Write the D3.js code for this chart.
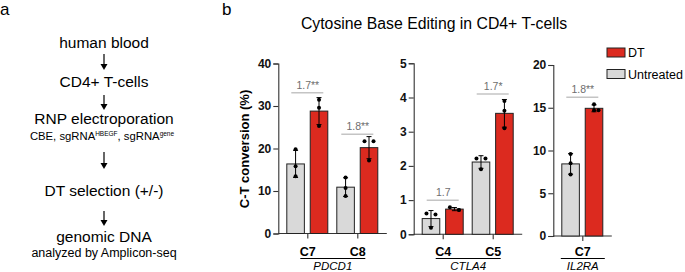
<!DOCTYPE html>
<html>
<head>
<meta charset="utf-8">
<script src="https://cdn.jsdelivr.net/npm/d3@7"></script>
<style>
  body { margin: 0; background: #fff; }
  svg { display: block; font-family: "Liberation Sans", Arial, sans-serif; }
</style>
</head>
<body>
<svg width="685" height="272"></svg>
<script>
// Data
var genes = ['PDCD1', 'CTLA4', 'IL2RA'];
var sites = [['C7', 'C8'], ['C4', 'C5'], ['C7']];
var yMaxes = [40, 5, 20];
var yTicks = [[0, 10, 20, 30, 40], [0, 1, 2, 3, 4, 5], [0, 5, 10, 15, 20]];
// replicates
var untreated = [
    [[19.8, 15.8, 13.5], [13.2, 10.7, 8.8]],
    [[0.61, 0.58, 0.19], [2.22, 2.22, 1.9]],
    [[9.6, 8.5, 7.2]]
];
var dtTreated = [
    [[31.5, 29.6, 25.3], [21.7, 21.7, 17.2]],
    [[0.79, 0.71, 0.71], [3.9, 3.61, 3.1]],
    [[15.4, 14.7, 14.7]]
];
var foldLabels = [['1.7**', '1.8**'], ['1.7', '1.7*'], ['1.8**']];
var groups = ['Untreated', 'DT'];
var flowSteps = ['human blood', 'CD4+ T-cells', 'RNP electroporation', 'DT selection (+/-)', 'genomic DNA'];

var colors = { Untreated: '#d9d9d9', DT: '#dc2a1f' };
var axisColor = '#333';

var svg = d3.select('svg');

// Panel labels
svg.append('text').attr('x', 0).attr('y', 15).attr('font-size', 17).text('a');
svg.append('text').attr('x', 222).attr('y', 15).attr('font-size', 17).text('b');

// ---- Panel a: flow ----
var cx = 104;
var stepY = [48.3, 86.7, 124, 195.7, 241.7];
flowSteps.forEach(function(s, i) {
    svg.append('text')
        .attr('x', cx).attr('y', stepY[i])
        .attr('text-anchor', 'middle')
        .attr('font-size', 15.5)
        .text(s);
});
var sub1 = svg.append('text')
    .attr('x', 102).attr('y', 140)
    .attr('text-anchor', 'middle')
    .attr('font-size', 11.3);
sub1.append('tspan').text('CBE, sgRNA');
sub1.append('tspan').attr('font-size', 6.5).attr('dy', -4).text('HBEGF');
sub1.append('tspan').attr('dy', 4).text(', sgRNA');
sub1.append('tspan').attr('font-size', 6.5).attr('dy', -4).text('gene');
svg.append('text')
    .attr('x', cx).attr('y', 257)
    .attr('text-anchor', 'middle')
    .attr('font-size', 12.5)
    .text('analyzed by Amplicon-seq');

var arrows = [[54, 70], [95, 110], [152, 169], [211, 226]];
arrows.forEach(function(a) {
    svg.append('line')
        .attr('x1', cx).attr('x2', cx)
        .attr('y1', a[0]).attr('y2', a[1] - 4)
        .attr('stroke', '#000').attr('stroke-width', 1.2);
    svg.append('path')
        .attr('d', 'M' + (cx - 3.5) + ',' + (a[1] - 6) + 'L' + (cx + 3.5) + ',' + (a[1] - 6) + 'L' + cx + ',' + a[1] + 'Z')
        .attr('fill', '#000');
});

// ---- Panel b: title + legend ----
svg.append('text')
    .attr('x', 434).attr('y', 29)
    .attr('text-anchor', 'middle')
    .attr('font-size', 15.8)
    .text('Cytosine Base Editing in CD4+ T-cells');

var legendY = { DT: 48, Untreated: 69.5 };
['DT', 'Untreated'].forEach(function(g) {
    svg.append('rect')
        .attr('x', 607).attr('y', legendY[g])
        .attr('width', 18).attr('height', 9)
        .attr('fill', colors[g]).attr('stroke', '#222').attr('stroke-width', 1);
    svg.append('text')
        .attr('x', 628).attr('y', legendY[g] + 4.5)
        .attr('dy', '0.36em')
        .attr('font-size', 12.5)
        .text(g);
});

// ---- bar panels ----
var panelX = [278.3, 413.7, 553.3];
var panelY = [[233.5, 63.5], [234.3, 63.3], [236, 65]];

genes.forEach(function(gene, p) {
    var x0 = panelX[p];
    var n = sites[p].length;
    var xScale = d3.scaleBand()
        .domain(sites[p].map(function(s, i) { return i; }))
        .range([x0 + 4.5, x0 + 4.5 + 50 * n]);
    var xSub = d3.scaleBand()
        .domain(groups)
        .range([-21, 20])
        .paddingInner(0.25);
    var yScale = d3.scaleLinear()
        .domain([0, yMaxes[p]])
        .range(panelY[p]);

    var g = svg.append('g');

    // y axis
    var yAxis = d3.axisLeft(yScale).tickValues(yTicks[p]).tickFormat(d3.format('d')).tickSize(5).tickPadding(2);
    var ya = g.append('g').attr('transform', 'translate(' + x0 + ',0)').call(yAxis);
    ya.select('.domain').attr('stroke', axisColor).attr('stroke-width', 1.1);
    ya.selectAll('.tick line').attr('stroke', axisColor).attr('stroke-width', 1.1);
    ya.selectAll('.tick text')
        .attr('font-family', '"Liberation Sans", Arial, sans-serif')
        .attr('font-size', 12).attr('font-weight', 'bold').attr('fill', '#111');

    // x axis
    var xEnd = x0 + 4.5 + 50 * n + 4;
    var xa = g.append('g').attr('transform', 'translate(0,' + yScale(0) + ')')
        .call(d3.axisBottom(xScale).tickSize(5).tickFormat(''));
    xa.select('.domain').remove();
    xa.selectAll('.tick line').attr('stroke', axisColor).attr('stroke-width', 1.1);
    g.append('line')
        .attr('x1', x0).attr('x2', xEnd)
        .attr('y1', yScale(0)).attr('y2', yScale(0))
        .attr('stroke', axisColor).attr('stroke-width', 1.1);

    var rows = [];
    sites[p].forEach(function(s, i) {
        rows.push({ i: i, g: 'Untreated', v: untreated[p][i] });
        rows.push({ i: i, g: 'DT', v: dtTreated[p][i] });
    });

    rows.forEach(function(r) {
        var c = xScale(r.i) + xScale.bandwidth() / 2;
        var bx = c + xSub(r.g);
        var m = d3.mean(r.v);
        var sd = d3.deviation(r.v);
        var mid = bx + xSub.bandwidth() / 2;
        g.append('rect')
            .attr('x', bx).attr('y', yScale(m))
            .attr('width', xSub.bandwidth())
            .attr('height', yScale(0) - yScale(m))
            .attr('fill', colors[r.g])
            .attr('stroke', '#222').attr('stroke-width', 1);
        // error bar
        g.append('line')
            .attr('x1', mid).attr('x2', mid)
            .attr('y1', yScale(Math.max(0, m - sd))).attr('y2', yScale(m + sd))
            .attr('stroke', '#000').attr('stroke-width', 1);
        [m + sd, Math.max(0, m - sd)].forEach(function(v, k) {
            if (k == 1 && m - sd < 0) return;
            g.append('line')
                .attr('x1', mid - 2.5).attr('x2', mid + 2.5)
                .attr('y1', yScale(v)).attr('y2', yScale(v))
                .attr('stroke', '#000').attr('stroke-width', 1);
        });
        // dots
        var sorted = r.v.slice().sort(d3.descending);
        sorted.forEach(function(v, k) {
            var dx = 0;
            if (k == 0 && Math.abs(sorted[0] - sorted[1]) < yMaxes[p] * 0.02) dx = -4.5;
            if (k == 1 && Math.abs(sorted[0] - sorted[1]) < yMaxes[p] * 0.02) dx = 4.5;
            if (k == 2 && Math.abs(sorted[1] - sorted[2]) < yMaxes[p] * 0.02) dx = 4.5;
            g.append('circle')
                .attr('cx', mid + dx).attr('cy', yScale(v))
                .attr('r', 2).attr('fill', '#000');
        });
    });

    // fold-change labels
    sites[p].forEach(function(s, i) {
        var c = xScale(i) + xScale.bandwidth() / 2;
        var top = d3.max(dtTreated[p][i].concat(untreated[p][i]));
        var ly = yScale(top) - 7;
        g.append('line')
            .attr('x1', c - 16.5).attr('x2', c + 15.5)
            .attr('y1', ly).attr('y2', ly)
            .attr('stroke', '#c4c4c4').attr('stroke-width', 1.5);
        g.append('text')
            .attr('x', c).attr('y', ly - 4)
            .attr('text-anchor', 'middle')
            .attr('font-size', 10.5).attr('fill', '#6e6e6e')
            .text(foldLabels[p][i]);
        // category label
        g.append('text')
            .attr('x', c).attr('y', 256)
            .attr('text-anchor', 'middle')
            .attr('font-size', 12.5).attr('font-weight', 'bold')
            .text(s);
    });

    // gene name with underline
    var c0 = xScale(0) + xScale.bandwidth() / 2;
    var c1 = xScale(n - 1) + xScale.bandwidth() / 2;
    var gx = (c0 + c1) / 2;
    var half = n > 1 ? 32.5 : 22;
    g.append('line')
        .attr('x1', gx - half).attr('x2', gx + half)
        .attr('y1', 258.5).attr('y2', 258.5)
        .attr('stroke', '#000').attr('stroke-width', 1);
    g.append('text')
        .attr('x', gx).attr('y', 270)
        .attr('text-anchor', 'middle')
        .attr('font-size', 11.5).attr('font-style', 'italic')
        .text(gene);
});

// y axis title
svg.append('text')
    .attr('transform', 'translate(249,149) rotate(-90)')
    .attr('text-anchor', 'middle')
    .attr('font-size', 13).attr('font-weight', 'bold')
    .text('C-T conversion (%)');
</script>
</body>
</html>
